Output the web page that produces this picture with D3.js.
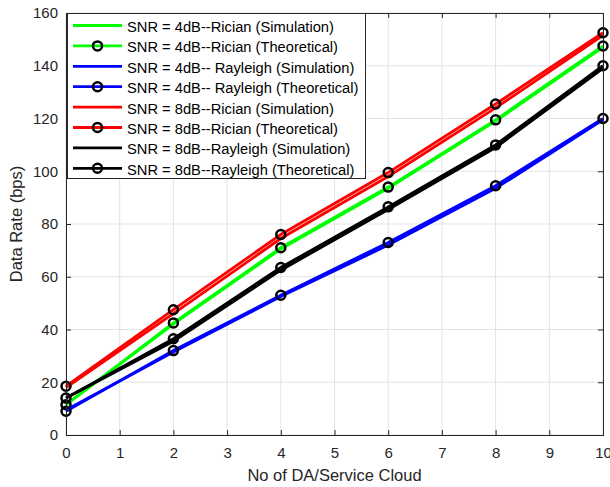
<!DOCTYPE html>
<html>
<head>
<meta charset="utf-8">
<script src="https://cdn.jsdelivr.net/npm/d3@7"></script>
<style>
body { margin: 0; background: #fff; }
svg { font-family: "Liberation Sans", Arial, sans-serif; }
</style>
</head>
<body>
<svg width="610" height="487"></svg>
<script>
// data
var xs = [0, 2, 4, 6, 8, 10];
var ricianSim4 = [11.5, 42, 70.5, 93.5, 119, 147];
var ricianTh4 = [11.5, 42.5, 71, 94, 119.5, 147.5];
var rayleighSim4 = [9.5, 31.5, 52.5, 72, 93.5, 119.5];
var rayleighTh4 = [9, 32, 53, 73, 94.5, 120];
var ricianSim8 = [18, 46, 74.5, 98, 124, 151.5];
var ricianTh8 = [18.5, 47.5, 76, 99.5, 125.5, 152.5];
var rayleighSim8 = [14, 35.5, 62.5, 85.5, 109, 139];
var rayleighTh8 = [14, 36.5, 63.5, 86.5, 110, 140];
var xTicks = [0, 1, 2, 3, 4, 5, 6, 7, 8, 9, 10];
var yTicks = [0, 20, 40, 60, 80, 100, 120, 140, 160];

var series = [
    {name: "SNR = 4dB--Rician (Simulation)", values: ricianSim4, color: "#00ff00", marker: false},
    {name: "SNR = 4dB--Rician (Theoretical)", values: ricianTh4, color: "#00ff00", marker: true},
    {name: "SNR = 4dB-- Rayleigh (Simulation)", values: rayleighSim4, color: "#0000ff", marker: false},
    {name: "SNR = 4dB-- Rayleigh (Theoretical)", values: rayleighTh4, color: "#0000ff", marker: true},
    {name: "SNR = 8dB--Rician (Simulation)", values: ricianSim8, color: "#ff0000", marker: false},
    {name: "SNR = 8dB--Rician (Theoretical)", values: ricianTh8, color: "#ff0000", marker: true},
    {name: "SNR = 8dB--Rayleigh (Simulation)", values: rayleighSim8, color: "#000000", marker: false},
    {name: "SNR = 8dB--Rayleigh (Theoretical)", values: rayleighTh8, color: "#000000", marker: true}
];

var svg = d3.select("svg"),
    pLeft = 66, pRight = 603, pTop = 13, pBottom = 435,
    axisColor = "#262626";

var x = d3.scaleLinear().domain([0, 10]).range([pLeft, pRight]);
var y = d3.scaleLinear().domain([0, 160]).range([pBottom, pTop]);

// grid
var grid = svg.append("g");
grid.selectAll(".gx").data(xTicks).enter().append("line")
    .attr("x1", function(d) { return x(d); }).attr("x2", function(d) { return x(d); })
    .attr("y1", pTop).attr("y2", pBottom)
    .attr("stroke", "#e3e3e3").attr("stroke-width", 1);
grid.selectAll(".gy").data(yTicks).enter().append("line")
    .attr("x1", pLeft).attr("x2", pRight)
    .attr("y1", function(d) { return y(d); }).attr("y2", function(d) { return y(d); })
    .attr("stroke", "#e3e3e3").attr("stroke-width", 1);

// lines
var line = d3.line()
    .x(function(d, i) { return x(xs[i]); })
    .y(function(d) { return y(d); });

series.forEach(function(s) {
    var g = svg.append("g");
    g.append("path")
        .datum(s.values)
        .attr("d", line)
        .attr("fill", "none")
        .attr("stroke", s.color)
        .attr("stroke-width", 2.8);
    if (s.marker) {
        g.selectAll("circle").data(s.values).enter().append("circle")
            .attr("cx", function(d, i) { return x(xs[i]); })
            .attr("cy", function(d) { return y(d); })
            .attr("r", 4.5)
            .attr("fill", "none")
            .attr("stroke", "#000")
            .attr("stroke-width", 2.5);
    }
});

// axes
svg.append("g").attr("transform", "translate(0," + pBottom + ")")
    .call(d3.axisBottom(x).tickValues(xTicks).tickSize(-5).tickPadding(12).tickFormat(d3.format("d")));
svg.append("g").attr("transform", "translate(" + pLeft + ",0)")
    .call(d3.axisLeft(y).tickValues(yTicks).tickSize(-5).tickPadding(8).tickFormat(d3.format("d")));
svg.append("g").attr("transform", "translate(0," + pTop + ")")
    .call(d3.axisTop(x).tickValues(xTicks).tickSize(-5).tickFormat(""));
svg.append("g").attr("transform", "translate(" + pRight + ",0)")
    .call(d3.axisRight(y).tickValues(yTicks).tickSize(-5).tickFormat(""));

svg.selectAll(".domain").attr("stroke", axisColor);
svg.selectAll(".tick line").attr("stroke", axisColor);
svg.selectAll(".tick text").attr("fill", axisColor).style("font-size", "15px")
    .style("font-family", "'Liberation Sans', Arial, sans-serif");

svg.append("text")
    .attr("x", (pLeft + pRight) / 2).attr("y", 481)
    .attr("text-anchor", "middle")
    .attr("fill", axisColor)
    .style("font-size", "16.5px")
    .text("No of DA/Service Cloud");
svg.append("text")
    .attr("transform", "translate(22," + (pTop + pBottom) / 2 + ") rotate(-90)")
    .attr("text-anchor", "middle")
    .attr("fill", axisColor)
    .style("font-size", "16.5px")
    .text("Data Rate (bps)");

// legend
var lg = svg.append("g");
lg.append("rect")
    .attr("x", 67.5).attr("y", 13.5).attr("width", 298).attr("height", 165)
    .attr("fill", "#fff").attr("stroke", "#262626").attr("stroke-width", 1);
series.forEach(function(s, i) {
    var ly = 25.5 + i * 20.4;
    lg.append("line")
        .attr("x1", 73).attr("x2", 122).attr("y1", ly).attr("y2", ly)
        .attr("stroke", s.color).attr("stroke-width", 2.8);
    if (s.marker) {
        lg.append("circle").attr("cx", 97.5).attr("cy", ly).attr("r", 4.5)
            .attr("fill", "none").attr("stroke", "#000").attr("stroke-width", 2.5);
    }
    lg.append("text")
        .attr("x", 127).attr("y", ly + 6.5)
        .attr("fill", "#000")
        .style("font-size", "14.7px")
        .text(s.name);
});
</script>
</body>
</html>
